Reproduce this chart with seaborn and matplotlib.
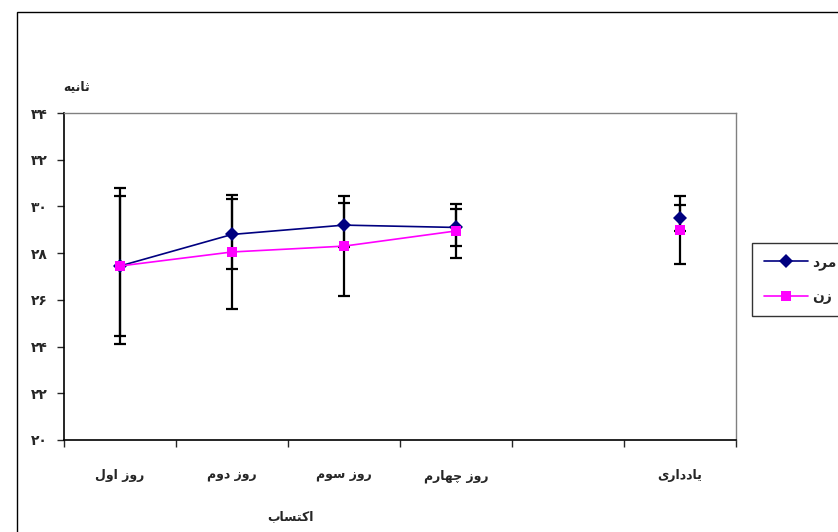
import matplotlib
matplotlib.use('Agg')
import matplotlib.pyplot as plt
from matplotlib.lines import Line2D
from matplotlib.patches import Rectangle
import seaborn as sb
import pandas as pd
import numpy as np

# Persian text is written pre-shaped (presentation forms) in visual order,
# since matplotlib does no Arabic shaping / bidi
categories = ['\uFEDD\uFEED\uFE8D \uFEAF\uFEED\uFEAD',          # روز اول
              '\uFEE1\uFEED\uFEA9 \uFEAF\uFEED\uFEAD',          # روز دوم
              '\uFEE1\uFEEE\uFEB3 \uFEAF\uFEED\uFEAD',          # روز سوم
              '\uFEE1\uFEAD\uFE8E\uFEEC\uFB7C \uFEAF\uFEED\uFEAD',  # روز چهارم
              '',
              '\uFEEF\uFEAD\uFE8D\uFEA9\uFEA9\uFE8E\uFEF3']     # یادداری
phase = ['acq', 'acq', 'acq', 'acq', 'gap', 'rec']
men_label = '\uFEA9\uFEAE\uFEE3'     # مرد
women_label = '\uFEE5\uFEAF'         # زن
men = [27.45, 28.8, 29.2, 29.1, np.nan, 29.5]
men_err = [3.35, 1.5, 0.95, 0.8, np.nan, 0.57]
women = [27.45, 28.05, 28.3, 28.95, np.nan, 29.0]
women_err = [3.0, 2.45, 2.15, 1.15, np.nan, 1.45]
yticks = [20, 22, 24, 26, 28, 30, 32, 34]
ylabel = '\uFEEA\uFEF4\uFEE7\uFE8E\uFE9B'          # ثانیه
xlabel = '\uFE8F\uFE8E\uFEB4\uFE98\uFEDB\uFE8D'     # اکتساب

fa_digits = str.maketrans('0123456789', '\u06F0\u06F1\u06F2\u06F3\u06F4\u06F5\u06F6\u06F7\u06F8\u06F9')

sb.set_style('white')
plt.rcParams['font.family'] = ['DejaVu Sans']

rows = []
for i in range(len(categories)):
    rows.append({'pos': i, 'value': men[i], 'err': men_err[i], 'sex': men_label, 'phase': phase[i]})
    rows.append({'pos': i, 'value': women[i], 'err': women_err[i], 'sex': women_label, 'phase': phase[i]})
df = pd.DataFrame(rows).dropna()

fig = plt.figure(figsize=(8.38, 5.32), dpi=100)
ax = fig.add_axes([64 / 838, 92 / 532, 672 / 838, 327 / 532])

colors = {men_label: '#000080', women_label: '#FF00FF'}
for sex in [men_label, women_label]:
    d = df[df.sex == sex]
    ax.errorbar(d.pos, d.value, yerr=d.err, fmt='none', ecolor='black',
                elinewidth=1.6, capsize=4.5, capthick=1.6, zorder=2)

sb.lineplot(data=df, x='pos', y='value', hue='sex', style='sex', units='phase',
            estimator=None, palette=colors, markers={men_label: 'D', women_label: 's'},
            dashes=False, markersize=7, markeredgewidth=0, linewidth=1.2,
            legend=False, ax=ax, zorder=3)

ax.set_xlim(-0.5, 5.5)
ax.set_ylim(20, 34)
ax.set_yticks(yticks)
ax.set_yticklabels([str(v).translate(fa_digits) for v in yticks], fontweight='bold', fontsize=10)
ax.set_xticks(np.arange(-0.5, 6, 1))
ax.set_xticklabels([])
ax.set_xticks(range(len(categories)), minor=True)
ax.set_xticklabels(categories, minor=True, fontweight='bold', fontsize=9)
ax.tick_params(axis='x', which='major', direction='out', length=5, width=1, bottom=True)
ax.tick_params(axis='x', which='minor', length=0, pad=21)
ax.tick_params(axis='y', direction='out', length=5, width=1, left=True, pad=7)
ax.set_xlabel('')
ax.set_ylabel('')
for s in ['left', 'bottom']:
    ax.spines[s].set_color('black')
    ax.spines[s].set_linewidth(1.2)
for s in ['top', 'right']:
    ax.spines[s].set_color('#808080')
    ax.spines[s].set_linewidth(1)

fig.text(77 / 838, 1 - 87 / 532, ylabel, ha='center', va='center', fontweight='bold', fontsize=9)
fig.text(290 / 838, 1 - 517 / 532, xlabel, ha='center', va='center', fontweight='bold', fontsize=9)

handles = [Line2D([], [], color='#000080', marker='D', markersize=7, markeredgewidth=0, linewidth=1.2),
           Line2D([], [], color='#FF00FF', marker='s', markersize=7, markeredgewidth=0, linewidth=1.2)]
leg = fig.legend(handles, [men_label, women_label], loc='upper left',
                 bbox_to_anchor=(752 / 838, 1 - 243 / 532), borderaxespad=0,
                 frameon=True, fancybox=False, edgecolor='black',
                 prop={'weight': 'bold', 'size': 10},
                 handlelength=3.2, borderpad=0.85, labelspacing=1.45, handletextpad=0.3)
leg.get_frame().set_linewidth(1)

fig.patches.append(Rectangle((17 / 838, -0.1), 1.2, 1.1 - 12 / 532, transform=fig.transFigure,
                             fill=False, edgecolor='black', linewidth=1))

fig.savefig('out.png', dpi=100)
